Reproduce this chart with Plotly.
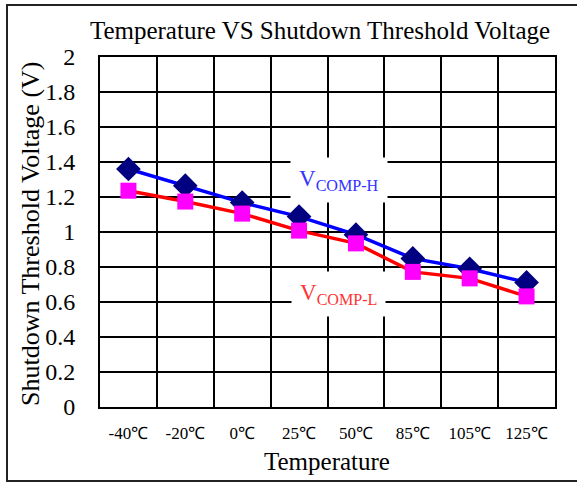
import plotly.graph_objects as go

categories = ["-40℃", "-20℃", "0℃", "25℃", "50℃", "85℃", "105℃", "125℃"]
v_comp_h = [1.36, 1.265, 1.168, 1.088, 0.985, 0.849, 0.79, 0.712]
v_comp_l = [1.236, 1.174, 1.105, 1.008, 0.935, 0.772, 0.735, 0.632]
y_ticks = [0, 0.2, 0.4, 0.6, 0.8, 1, 1.2, 1.4, 1.6, 1.8, 2]

W, H = 577, 484
L, R, T, B = 100, 555, 57, 407

idx = list(range(len(categories)))
FONT = "Liberation Serif"

fig = go.Figure()
fig.add_trace(go.Scatter(
    x=idx, y=v_comp_h, mode="lines+markers",
    line=dict(color="#0000ff", width=3.5),
    marker=dict(symbol="diamond", size=19, color="#000080"),
    name="VCOMP-H", showlegend=False))
fig.add_trace(go.Scatter(
    x=idx, y=v_comp_l, mode="lines+markers",
    line=dict(color="#ff0000", width=3.5),
    marker=dict(symbol="square", size=16, color="#ff00ff"),
    name="VCOMP-L", showlegend=False))

pw = R - L
ph = B - T

def px(xpix):
    return (xpix - L) / pw

def py(ypix):
    return (B - ypix) / ph

fig.update_layout(
    width=W, height=H,
    margin=dict(l=L, r=W - R, t=T, b=H - B, pad=0, autoexpand=False),
    paper_bgcolor="white", plot_bgcolor="white",
    font=dict(family=FONT, color="black"),
    title=dict(text="Temperature VS Shutdown Threshold Voltage",
               font=dict(size=25, family=FONT, color="black"),
               xref="container", yref="container",
               x=320 / W, y=1 - 30 / H, xanchor="center", yanchor="middle"),
    xaxis=dict(range=[-0.5, len(categories) - 0.5], automargin=False,
               tickmode="array", tickvals=idx, ticktext=categories,
               showgrid=False, zeroline=False,
               showline=True, linecolor="black", linewidth=2, mirror=True,
               ticks="", ticklabelstandoff=10,
               tickfont=dict(size=17, family=FONT),
               minor=dict(tickvals=[i + 0.5 for i in idx[:-1]], showgrid=True,
                          gridcolor="black", gridwidth=2, ticks="")),
    yaxis=dict(range=[0, 2], tickmode="array", tickvals=y_ticks, automargin=False,
               showgrid=True, gridcolor="black", gridwidth=2, zeroline=False,
               showline=True, linecolor="black", linewidth=2, mirror=True,
               ticks="", ticklabelstandoff=18,
               tickfont=dict(size=24, family=FONT)),
    annotations=[
        dict(text="Temperature", xref="paper", yref="paper",
             x=px(327), y=py(461), showarrow=False,
             xanchor="center", yanchor="middle",
             font=dict(size=25, family=FONT)),
        dict(text="Shutdown Threshold Voltage (V)", xref="paper", yref="paper",
             x=px(30), y=py(234), showarrow=False, textangle=-90,
             xanchor="center", yanchor="middle",
             font=dict(size=26, family=FONT)),
        dict(text="V<sub>COMP-H</sub>", xref="paper", yref="paper",
             x=px(339), y=py(180), showarrow=False,
             xanchor="center", yanchor="middle",
             bgcolor="white", borderpad=8,
             font=dict(size=23, family=FONT, color="#3333ff")),
        dict(text="V<sub>COMP-L</sub>", xref="paper", yref="paper",
             x=px(338), y=py(294), showarrow=False,
             xanchor="center", yanchor="middle",
             bgcolor="white", borderpad=8,
             font=dict(size=23, family=FONT, color="#ff3333")),
    ],
    shapes=[
        dict(type="rect", xref="paper", yref="paper", layer="below",
             x0=px(7), x1=px(590), y0=py(481), y1=py(5),
             line=dict(color="#222222", width=2), fillcolor="rgba(0,0,0,0)"),
    ],
)

fig.write_html(
    "out.html",
    config={"displayModeBar": False},
    post_script="document.body.style.margin='0';document.body.style.overflow='hidden';",
)
